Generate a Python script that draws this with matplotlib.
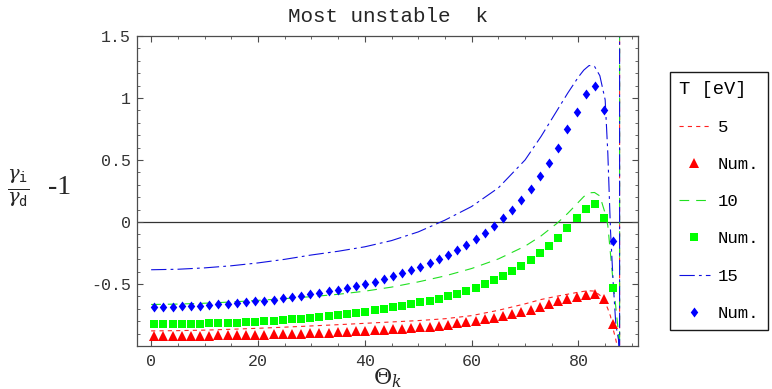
import matplotlib
matplotlib.use("Agg")
import matplotlib.pyplot as plt
from matplotlib.ticker import MultipleLocator

plt.rcParams['lines.scale_dashes'] = False
plt.rcParams['mathtext.fontset'] = 'dejavuserif'

# numerical points (theta in degrees)
theta_num = [0.57, 2.29, 4.01, 5.73, 7.45, 9.17, 10.89, 12.61, 14.32, 16.04,
             17.76, 19.48, 21.20, 22.92, 24.64, 26.36, 28.07, 29.79, 31.51, 33.23,
             34.95, 36.67, 38.39, 40.11, 41.83, 43.54, 45.26, 46.98, 48.70, 50.42,
             52.14, 53.86, 55.58, 57.30, 59.01, 60.73, 62.45, 64.17, 65.89, 67.61,
             69.33, 71.05, 72.77, 74.48, 76.20, 77.92, 79.64, 81.36, 83.08, 84.80,
             86.52]

num_5 = [-0.920, -0.920, -0.919, -0.919, -0.918, -0.917, -0.916, -0.915, -0.914, -0.913,
         -0.911, -0.910, -0.908, -0.906, -0.904, -0.902, -0.900, -0.897, -0.895, -0.892,
         -0.889, -0.886, -0.882, -0.878, -0.874, -0.870, -0.865, -0.860, -0.855, -0.850,
         -0.843, -0.835, -0.827, -0.818, -0.808, -0.797, -0.785, -0.772, -0.758, -0.743,
         -0.726, -0.706, -0.684, -0.662, -0.638, -0.617, -0.602, -0.592, -0.583, -0.623,
         -0.825]

num_10 = [-0.825, -0.825, -0.824, -0.823, -0.822, -0.820, -0.818, -0.816, -0.814, -0.811,
          -0.808, -0.804, -0.800, -0.796, -0.791, -0.786, -0.780, -0.774, -0.767, -0.760,
          -0.752, -0.743, -0.734, -0.724, -0.713, -0.701, -0.689, -0.676, -0.662, -0.648,
          -0.634, -0.618, -0.598, -0.578, -0.557, -0.530, -0.503, -0.471, -0.436, -0.396,
          -0.356, -0.307, -0.253, -0.195, -0.128, -0.052, 0.030, 0.103, 0.143, 0.030,
          -0.536]

num_15 = [-0.685, -0.684, -0.682, -0.680, -0.677, -0.674, -0.670, -0.665, -0.660, -0.654,
          -0.648, -0.641, -0.633, -0.625, -0.616, -0.606, -0.595, -0.584, -0.572, -0.559,
          -0.545, -0.531, -0.516, -0.500, -0.481, -0.461, -0.439, -0.415, -0.390, -0.362,
          -0.332, -0.300, -0.265, -0.225, -0.182, -0.135, -0.085, -0.030, 0.030, 0.100,
          0.178, 0.268, 0.370, 0.475, 0.600, 0.750, 0.890, 1.030, 1.100, 0.900,
          -0.155]

# analytic curves, the last two points are the pole at ~87.7 deg
theta_line = [0, 5, 10, 15, 20, 25, 30, 35, 40, 45, 50, 55, 60, 65, 70, 73, 76, 78,
              80, 81, 82, 83, 84, 85, 85.5, 86, 86.5, 87, 87.5, 87.7, 87.7]

line_5 = [-0.878, -0.876, -0.872, -0.865, -0.857, -0.848, -0.838, -0.828, -0.817, -0.806,
          -0.795, -0.780, -0.755, -0.712, -0.660, -0.625, -0.598, -0.582, -0.566, -0.559,
          -0.555, -0.557, -0.590, -0.650, -0.700, -0.760, -0.865, -0.950, -1.050, -1.2, 1.7]

line_10 = [-0.665, -0.662, -0.655, -0.645, -0.632, -0.618, -0.602, -0.583, -0.558, -0.525,
           -0.483, -0.435, -0.375, -0.298, -0.195, -0.112, -0.010, 0.070, 0.160, 0.205,
           0.235, 0.238, 0.210, 0.070, -0.030, -0.260, -0.490, -0.690, -0.900, -1.2, 1.7]

line_15 = [-0.385, -0.381, -0.370, -0.353, -0.330, -0.301, -0.266, -0.236, -0.200, -0.150,
           -0.080, 0.015, 0.125, 0.275, 0.500, 0.690, 0.900, 1.040, 1.170, 1.225,
           1.262, 1.255, 1.180, 0.985, 0.550, -0.070, -0.490, -0.830, -0.950, -1.2, 1.7]

labels = ['5', 'Num.', '10', 'Num.', '15', 'Num.']

mono = 'Liberation Mono'

fig = plt.figure(figsize=(7.72, 3.89), dpi=100)
ax = fig.add_axes([0.1771, 0.1105, 0.6497, 0.797])

ax.axhline(0, color='0.2', lw=0.9, zorder=1)

l5, = ax.plot(theta_line, line_5, color='#ff2020', lw=0.8, dashes=(3, 3), zorder=2)
l10, = ax.plot(theta_line, line_10, color='#20e020', lw=0.8, dashes=(7, 5), zorder=2)
l15, = ax.plot(theta_line, line_15, color='#1010e0', lw=0.8, dashes=(11, 3, 2, 3), zorder=2)

diamond = [(0, 1), (0.75, 0), (0, -1), (-0.75, 0), (0, 1)]
m5, = ax.plot(theta_num, num_5, ls='none', marker='^', ms=6.8, color='#ff0000', mew=0, zorder=3)
m10, = ax.plot(theta_num, num_10, ls='none', marker='s', ms=5.4, color='#00ff00', mew=0, zorder=3)
m15, = ax.plot(theta_num, num_15, ls='none', marker=diamond, ms=7.2, color='#0000ff', mew=0, zorder=3)

ax.set_xlim(-2.7, 91.2)
ax.set_ylim(-1.0, 1.5)
ax.set_xticks([0, 20, 40, 60, 80])
ax.set_yticks([-0.5, 0, 0.5, 1, 1.5])
ax.set_yticklabels(['-0.5', '0', '0.5', '1', '1.5'])
ax.xaxis.set_minor_locator(MultipleLocator(5))
ax.yaxis.set_minor_locator(MultipleLocator(0.1))
ax.tick_params(which='both', direction='in', top=True, right=True, color='0.3')
ax.tick_params(which='major', length=4.5, width=0.8)
ax.tick_params(which='minor', length=2.5, width=0.6)
ax.tick_params(axis='x', pad=6)
ax.tick_params(axis='y', pad=4)
for t in ax.get_xticklabels() + ax.get_yticklabels():
    t.set_fontfamily(mono)
    t.set_fontsize(12)
    t.set_color('0.2')
for s in ax.spines.values():
    s.set_color('0.3')
    s.set_linewidth(0.9)

ax.set_title('Most unstable  k', fontfamily=mono, fontsize=15, color='0.15', pad=10)
ax.set_xlabel(r'$\mathit{\Theta}_k$', fontsize=16, labelpad=-2, color='0.15')

fig.text(0.009, 0.517, r'$\frac{\gamma_\mathtt{i}}{\gamma_\mathtt{d}}$', fontsize=20,
         ha='left', va='center', color='0.15')
fig.text(0.062, 0.517, '-1', fontfamily='Liberation Serif', fontsize=20,
         ha='left', va='center', color='0.15')

leg = fig.legend([l5, m5, l10, m10, l15, m15], labels, title='T [eV]',
                 loc='upper left', bbox_to_anchor=(670 / 772, 1 - 72 / 389),
                 prop={'family': mono, 'size': 12.5},
                 title_fontproperties={'family': mono, 'size': 13.5},
                 fancybox=False, framealpha=1, edgecolor='0.1', borderpad=0.5,
                 labelspacing=1.27, handlelength=1.8, handletextpad=0.45, borderaxespad=0)
leg.get_frame().set_linewidth(1.0)
leg._legend_box.align = 'left'

fig.savefig('out.png', dpi=100)
